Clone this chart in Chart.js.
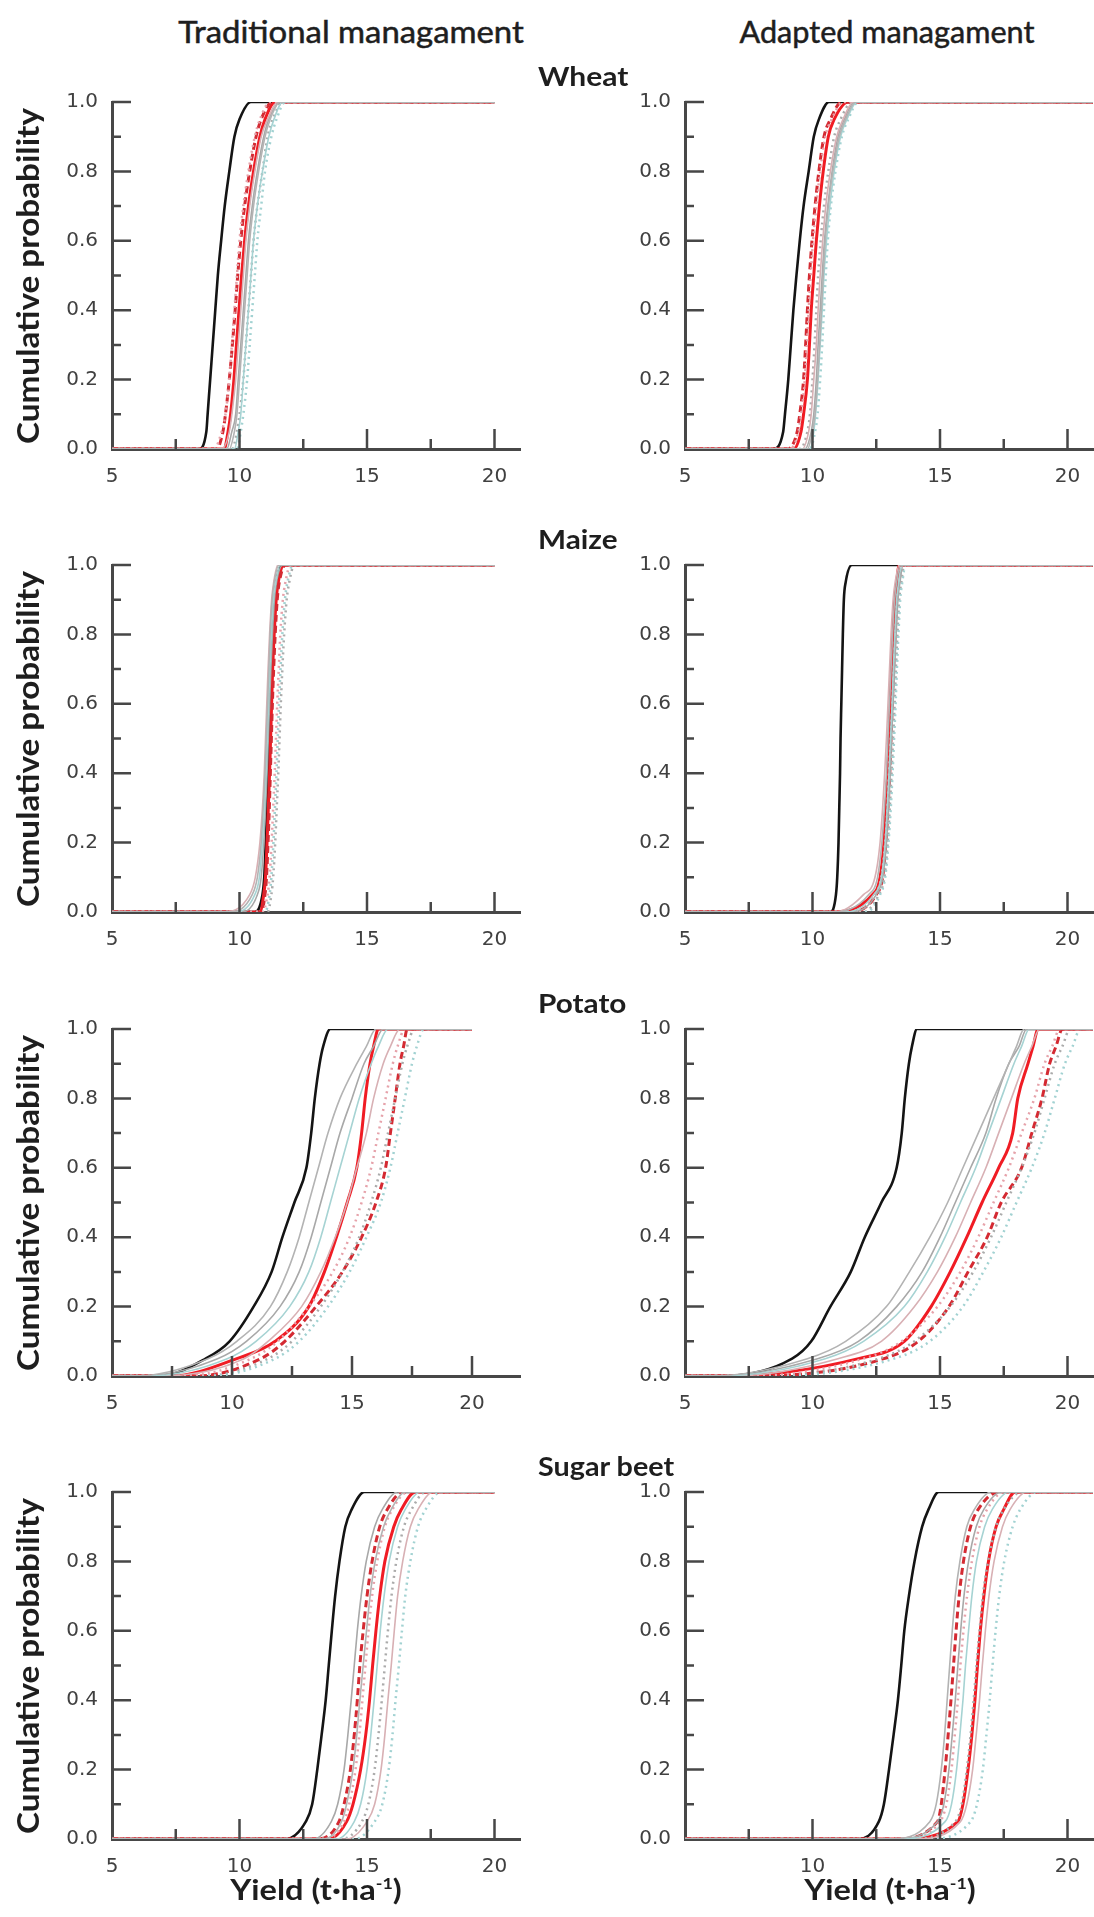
<!DOCTYPE html>
<html>
<head>
<meta charset="utf-8">
<script src="https://cdn.jsdelivr.net/npm/chart.js@4.4.1/dist/chart.umd.min.js"></script>
<style>
  html, body { margin: 0; padding: 0; background: #fff; }
  body { position: relative; width: 1094px; height: 1917px; overflow: hidden; }
  canvas { position: absolute; }
  .lbl { position: absolute; white-space: nowrap; font-family: Lato, 'Open Sans', sans-serif; color: #1e1e1e; line-height: 1.1; }
  .lbl sup { font-size: 0.55em; vertical-align: 0.7em; }
  .lbl.head { -webkit-text-stroke: 0.5px #1e1e1e; }
</style>
</head>
<body>
<script>
const probs = [0, 0.05, 0.1, 0.2, 0.3, 0.4, 0.5, 0.6, 0.7, 0.8, 0.9, 0.95, 1];

const yTicks = [0, 0.2, 0.4, 0.6, 0.8, 1.0];
const yMinorTicks = [0.1, 0.3, 0.5, 0.7, 0.9];
const xTicks = [5, 10, 15, 20];
const xMinorTicks = [7.5, 12.5, 17.5];

// ---- Wheat, traditional
const wheatTradBlack = [8.4, 8.7, 8.75, 8.85, 8.95, 9.05, 9.15, 9.28, 9.42, 9.6, 9.8, 10.0, 10.45];
const wheatTradRed = [9.4, 9.55, 9.65, 9.78, 9.88, 9.98, 10.08, 10.2, 10.35, 10.55, 10.8, 11.0, 11.4];
const wheatTradRedDash = [9.1, 9.35, 9.45, 9.6, 9.72, 9.83, 9.93, 10.05, 10.2, 10.4, 10.65, 10.85, 11.3];
const wheatTradGray = [
  [9.6, 9.8, 9.9, 10.0, 10.1, 10.2, 10.3, 10.4, 10.55, 10.75, 11.0, 11.2, 11.6],
  [9.8, 9.95, 10.05, 10.15, 10.25, 10.35, 10.45, 10.55, 10.7, 10.9, 11.15, 11.35, 11.7],
  [9.3, 9.6, 9.7, 9.85, 9.95, 10.05, 10.15, 10.25, 10.4, 10.6, 10.85, 11.1, 11.5],
  [9.5, 9.7, 9.85, 9.95, 10.05, 10.15, 10.25, 10.35, 10.5, 10.7, 10.95, 11.15, 11.6]
];
const wheatTradDotted = [
  [9.0, 9.3, 9.45, 9.6, 9.7, 9.8, 9.9, 10.0, 10.15, 10.35, 10.6, 10.8, 11.2],
  [9.9, 10.05, 10.15, 10.3, 10.4, 10.5, 10.6, 10.7, 10.85, 11.0, 11.25, 11.45, 11.8],
  [9.7, 9.9, 10.0, 10.15, 10.25, 10.35, 10.45, 10.55, 10.7, 10.9, 11.1, 11.3, 11.7]
];

// ---- Wheat, adapted
const wheatAdaptBlack = [8.45, 8.85, 8.92, 9.05, 9.15, 9.25, 9.37, 9.5, 9.65, 9.85, 10.05, 10.25, 10.65];
const wheatAdaptRed = [9.25, 9.55, 9.65, 9.8, 9.88, 9.95, 10.05, 10.15, 10.27, 10.42, 10.62, 10.85, 11.4];
const wheatAdaptRedDash = [9.0, 9.4, 9.5, 9.65, 9.73, 9.8, 9.88, 9.98, 10.1, 10.25, 10.45, 10.7, 11.15];
const wheatAdaptGray = [
  [9.8, 10.0, 10.1, 10.2, 10.28, 10.35, 10.42, 10.5, 10.62, 10.8, 11.05, 11.3, 11.7],
  [9.9, 10.05, 10.12, 10.22, 10.3, 10.38, 10.45, 10.55, 10.68, 10.85, 11.1, 11.35, 11.75],
  [9.6, 9.85, 9.95, 10.05, 10.15, 10.22, 10.3, 10.4, 10.52, 10.7, 10.95, 11.2, 11.6],
  [9.7, 9.95, 10.05, 10.15, 10.22, 10.3, 10.38, 10.47, 10.6, 10.77, 11.0, 11.25, 11.65]
];
const wheatAdaptDotted = [
  [9.1, 9.45, 9.55, 9.7, 9.78, 9.85, 9.93, 10.02, 10.15, 10.3, 10.5, 10.75, 11.2],
  [9.9, 10.1, 10.2, 10.3, 10.38, 10.45, 10.52, 10.6, 10.72, 10.9, 11.15, 11.4, 11.8],
  [9.5, 9.8, 9.9, 10.0, 10.08, 10.15, 10.22, 10.32, 10.45, 10.62, 10.85, 11.1, 11.55]
];

// ---- Maize, traditional
const maizeTradBlack = [10.6, 10.9, 10.97, 11.03, 11.08, 11.13, 11.17, 11.21, 11.25, 11.3, 11.38, 11.45, 11.65];
const maizeTradRed = [10.8, 10.95, 11.02, 11.08, 11.13, 11.18, 11.22, 11.26, 11.3, 11.36, 11.44, 11.52, 11.75];
const maizeTradRedDash = [10.85, 11.0, 11.06, 11.12, 11.17, 11.21, 11.25, 11.29, 11.34, 11.4, 11.48, 11.56, 11.8];
const maizeTradGray = [
  [9.6, 10.5, 10.7, 10.85, 10.93, 11.0, 11.05, 11.1, 11.15, 11.2, 11.28, 11.36, 11.55],
  [9.9, 10.6, 10.78, 10.9, 10.98, 11.04, 11.09, 11.14, 11.19, 11.25, 11.33, 11.42, 11.6],
  [9.3, 10.4, 10.62, 10.8, 10.9, 10.97, 11.02, 11.07, 11.12, 11.18, 11.26, 11.34, 11.5],
  [10.1, 10.7, 10.85, 10.95, 11.02, 11.08, 11.13, 11.18, 11.23, 11.29, 11.37, 11.45, 11.7]
];
const maizeTradDotted = [
  [10.9, 11.1, 11.18, 11.26, 11.32, 11.38, 11.43, 11.48, 11.54, 11.6, 11.7, 11.8, 12.0],
  [11.0, 11.18, 11.25, 11.33, 11.39, 11.45, 11.5, 11.55, 11.61, 11.68, 11.78, 11.88, 12.1],
  [11.1, 11.25, 11.32, 11.4, 11.46, 11.52, 11.57, 11.62, 11.68, 11.75, 11.85, 11.95, 12.15]
];

// ---- Maize, adapted
const maizeAdaptBlack = [10.7, 10.92, 10.97, 11.02, 11.05, 11.08, 11.1, 11.13, 11.16, 11.19, 11.23, 11.3, 11.55];
const maizeAdaptRed = [10.6, 12.35, 12.65, 12.8, 12.88, 12.95, 13.0, 13.05, 13.1, 13.16, 13.23, 13.3, 13.4];
const maizeAdaptRedDash = [11.5, 12.5, 12.75, 12.88, 12.96, 13.03, 13.08, 13.13, 13.18, 13.24, 13.3, 13.37, 13.5];
const maizeAdaptGray = [
  [10.8, 12.2, 12.55, 12.72, 12.82, 12.9, 12.96, 13.02, 13.08, 13.14, 13.22, 13.3, 13.45],
  [11.3, 12.4, 12.7, 12.85, 12.93, 13.0, 13.06, 13.12, 13.17, 13.23, 13.3, 13.38, 13.5],
  [10.9, 12.0, 12.45, 12.65, 12.75, 12.83, 12.9, 12.96, 13.02, 13.08, 13.16, 13.24, 13.4],
  [11.5, 12.5, 12.75, 12.9, 12.98, 13.05, 13.1, 13.16, 13.22, 13.28, 13.35, 13.43, 13.55]
];
const maizeAdaptDotted = [
  [11.6, 12.45, 12.7, 12.85, 12.94, 13.0, 13.07, 13.13, 13.19, 13.25, 13.32, 13.4, 13.55],
  [12.1, 12.65, 12.85, 12.98, 13.07, 13.14, 13.2, 13.26, 13.31, 13.37, 13.44, 13.52, 13.65],
  [12.0, 12.6, 12.82, 12.95, 13.03, 13.1, 13.16, 13.22, 13.27, 13.33, 13.4, 13.48, 13.6]
];

// ---- Potato, traditional
const potatoTradBlack = [7.0, 8.9, 9.9, 10.9, 11.65, 12.1, 12.6, 13.1, 13.3, 13.45, 13.65, 13.8, 14.1];
const potatoTradRed = [7.5, 10.2, 11.8, 13.2, 13.85, 14.35, 14.8, 15.2, 15.4, 15.55, 15.75, 15.9, 16.1];
const potatoTradRedDash = [8.5, 11.2, 12.2, 13.5, 14.6, 15.4, 16.0, 16.4, 16.6, 16.8, 17.0, 17.15, 17.3];
const potatoTradGray = [
  [6.0, 9.0, 10.2, 11.6, 12.3, 12.8, 13.2, 13.6, 14.0, 14.5, 15.2, 15.6, 16.0],
  [6.5, 9.8, 11.0, 12.4, 13.2, 13.7, 14.1, 14.5, 14.9, 15.3, 15.8, 16.1, 16.5],
  [7.0, 10.5, 11.5, 12.9, 13.7, 14.3, 14.8, 15.2, 15.6, 15.9, 16.3, 16.6, 17.0],
  [6.2, 9.4, 10.6, 12.0, 12.8, 13.3, 13.7, 14.1, 14.5, 15.0, 15.5, 15.9, 16.3]
];
const potatoTradDotted = [
  [8.0, 10.8, 11.9, 13.2, 14.2, 14.9, 15.4, 15.8, 16.1, 16.4, 16.7, 16.9, 17.2],
  [9.0, 11.8, 12.8, 14.0, 14.9, 15.6, 16.2, 16.6, 16.9, 17.2, 17.5, 17.7, 18.0],
  [8.8, 11.5, 12.5, 13.7, 14.6, 15.3, 15.8, 16.2, 16.5, 16.8, 17.1, 17.3, 17.6]
];

// ---- Potato, adapted
const potatoAdaptBlack = [6.5, 9.2, 9.95, 10.7, 11.5, 12.05, 12.7, 13.3, 13.5, 13.62, 13.78, 13.9, 14.1];
const potatoAdaptRed = [6.5, 11.8, 13.6, 14.65, 15.4, 16.05, 16.65, 17.3, 17.85, 18.05, 18.45, 18.65, 18.85];
const potatoAdaptRedDash = [7.5, 12.8, 14.15, 15.35, 16.1, 16.85, 17.4, 18.2, 18.6, 19.0, 19.3, 19.55, 19.8];
const potatoAdaptGray = [
  [6.0, 9.8, 11.3, 12.9, 13.8, 14.6, 15.3, 15.9, 16.5, 17.1, 17.7, 18.0, 18.3],
  [6.3, 10.5, 12.0, 13.6, 14.5, 15.2, 15.8, 16.4, 16.9, 17.4, 17.9, 18.2, 18.5],
  [6.8, 11.0, 12.7, 14.0, 14.9, 15.6, 16.2, 16.8, 17.3, 17.8, 18.3, 18.6, 18.9],
  [6.2, 10.2, 11.8, 13.3, 14.3, 15.0, 15.6, 16.2, 16.8, 17.2, 17.7, 18.1, 18.4]
];
const potatoAdaptDotted = [
  [7.5, 12.0, 13.5, 14.9, 15.8, 16.5, 17.1, 17.7, 18.2, 18.7, 19.1, 19.4, 19.7],
  [8.5, 13.2, 14.6, 15.9, 16.7, 17.4, 18.0, 18.6, 19.1, 19.5, 19.9, 20.2, 20.5],
  [8.0, 12.6, 14.0, 15.4, 16.3, 17.0, 17.6, 18.2, 18.7, 19.1, 19.5, 19.8, 20.1]
];

// ---- Sugar beet, traditional
const beetTradBlack = [11.8, 12.6, 12.85, 13.05, 13.22, 13.38, 13.5, 13.62, 13.75, 13.92, 14.15, 14.4, 14.9];
const beetTradRed = [13.5, 14.2, 14.45, 14.75, 14.95, 15.1, 15.22, 15.35, 15.5, 15.7, 16.05, 16.35, 16.9];
const beetTradRedDash = [13.0, 13.9, 14.1, 14.35, 14.5, 14.62, 14.72, 14.85, 15.0, 15.2, 15.5, 15.8, 16.4];
const beetTradGray = [
  [13.3, 14.0, 14.2, 14.45, 14.6, 14.72, 14.85, 14.98, 15.12, 15.32, 15.65, 15.95, 16.5],
  [13.8, 14.5, 14.75, 15.0, 15.15, 15.28, 15.4, 15.52, 15.67, 15.87, 16.2, 16.5, 17.1],
  [14.2, 15.0, 15.3, 15.55, 15.7, 15.82, 15.95, 16.07, 16.2, 16.4, 16.7, 17.0, 17.6],
  [12.9, 13.6, 13.85, 14.1, 14.25, 14.38, 14.5, 14.62, 14.77, 14.97, 15.3, 15.6, 16.2]
];
const beetTradDotted = [
  [13.3, 14.1, 14.3, 14.55, 14.7, 14.82, 14.94, 15.06, 15.2, 15.4, 15.7, 16.0, 16.6],
  [14.5, 15.3, 15.6, 15.85, 16.0, 16.12, 16.25, 16.37, 16.5, 16.7, 17.0, 17.3, 17.9],
  [14.0, 14.8, 15.05, 15.3, 15.45, 15.58, 15.7, 15.82, 15.96, 16.15, 16.45, 16.75, 17.3]
];

// ---- Sugar beet, adapted
const beetAdaptBlack = [11.8, 12.6, 12.8, 13.0, 13.18, 13.35, 13.48, 13.6, 13.78, 14.0, 14.3, 14.55, 14.95];
const beetAdaptRed = [13.5, 15.7, 15.9, 16.1, 16.25, 16.37, 16.47, 16.58, 16.72, 16.9, 17.2, 17.5, 17.95];
const beetAdaptRedDash = [13.2, 14.9, 15.05, 15.2, 15.32, 15.43, 15.53, 15.63, 15.75, 15.92, 16.2, 16.5, 17.3];
const beetAdaptGray = [
  [13.0, 14.6, 14.85, 15.05, 15.18, 15.28, 15.38, 15.48, 15.6, 15.78, 16.05, 16.35, 17.0],
  [13.4, 15.2, 15.45, 15.65, 15.78, 15.9, 16.0, 16.12, 16.25, 16.43, 16.75, 17.05, 17.7],
  [14.0, 15.8, 16.05, 16.28, 16.42, 16.55, 16.66, 16.78, 16.92, 17.12, 17.45, 17.75, 18.4],
  [13.2, 14.9, 15.15, 15.35, 15.48, 15.6, 15.7, 15.81, 15.94, 16.12, 16.42, 16.72, 17.4]
];
const beetAdaptDotted = [
  [13.5, 15.0, 15.25, 15.45, 15.58, 15.7, 15.8, 15.92, 16.06, 16.25, 16.55, 16.85, 17.5],
  [14.5, 16.2, 16.45, 16.68, 16.82, 16.95, 17.06, 17.18, 17.32, 17.52, 17.85, 18.15, 18.8],
  [13.8, 15.6, 15.85, 16.05, 16.2, 16.32, 16.43, 16.55, 16.68, 16.88, 17.2, 17.5, 18.2]
];

// ---- layout
const axisLeft = [112, 685];
const plotTop = [102, 565, 1029, 1492];
const plotW = 408, plotH = 347;
const yScaleW = 100, padTop = 20, xScaleH = 45, padRight = 12;

const axisColor = '#474747';
const tickColor = '#404040';
const grayColors = ['#b3b3b3', '#a6d3d3', '#d8b0b4', '#a8a8a8'];
const dotColors = ['#e6a2aa', '#a2d2d2', '#ababab'];

const panels = [
  { row: 0, col: 0, xMax: 21, xEnd: 20, five: true, black: wheatTradBlack, red: wheatTradRed, redDash: wheatTradRedDash, gray: wheatTradGray, dotted: wheatTradDotted },
  { row: 0, col: 1, xMax: 21, xEnd: 21, five: true, black: wheatAdaptBlack, red: wheatAdaptRed, redDash: wheatAdaptRedDash, gray: wheatAdaptGray, dotted: wheatAdaptDotted },
  { row: 1, col: 0, xMax: 21, xEnd: 20, five: true, black: maizeTradBlack, red: maizeTradRed, redDash: maizeTradRedDash, gray: maizeTradGray, dotted: maizeTradDotted },
  { row: 1, col: 1, xMax: 21, xEnd: 21, five: true, black: maizeAdaptBlack, red: maizeAdaptRed, redDash: maizeAdaptRedDash, gray: maizeAdaptGray, dotted: maizeAdaptDotted },
  { row: 2, col: 0, xMax: 22, xEnd: 20, five: true, black: potatoTradBlack, red: potatoTradRed, redDash: potatoTradRedDash, gray: potatoTradGray, dotted: potatoTradDotted },
  { row: 2, col: 1, xMax: 21, xEnd: 21, five: true, black: potatoAdaptBlack, red: potatoAdaptRed, redDash: potatoAdaptRedDash, gray: potatoAdaptGray, dotted: potatoAdaptDotted },
  { row: 3, col: 0, xMax: 21, xEnd: 20, five: true, black: beetTradBlack, red: beetTradRed, redDash: beetTradRedDash, gray: beetTradGray, dotted: beetTradDotted },
  { row: 3, col: 1, xMax: 21, xEnd: 21, five: false, black: beetAdaptBlack, red: beetAdaptRed, redDash: beetAdaptRedDash, gray: beetAdaptGray, dotted: beetAdaptDotted }
];

function curve(q, xEnd, style) {
  const pts = [{ x: 5, y: 0 }];
  q.forEach((v, i) => pts.push({ x: v, y: probs[i] }));
  pts.push({ x: xEnd, y: 1 });
  return Object.assign({ data: pts, pointRadius: 0, fill: false, cubicInterpolationMode: 'monotone' }, style);
}

// inward tick marks, placed with the chart's own scales
const tickMarks = {
  id: 'tickMarks',
  afterDraw(chart) {
    const ctx = chart.ctx;
    const area = chart.chartArea;
    const xs = chart.scales.x, ys = chart.scales.y;
    ctx.save();
    ctx.setLineDash([]);
    ctx.globalAlpha = 1;
    ctx.strokeStyle = axisColor;
    ctx.lineWidth = 2.5;
    ctx.beginPath();
    yTicks.slice(1).forEach(v => { const p = ys.getPixelForValue(v); ctx.moveTo(area.left, p); ctx.lineTo(area.left + 19, p); });
    yMinorTicks.forEach(v => { const p = ys.getPixelForValue(v); ctx.moveTo(area.left, p); ctx.lineTo(area.left + 9, p); });
    xTicks.slice(1).forEach(v => { const p = xs.getPixelForValue(v); ctx.moveTo(p, area.bottom); ctx.lineTo(p, area.bottom - 20); });
    xMinorTicks.forEach(v => { const p = xs.getPixelForValue(v); ctx.moveTo(p, area.bottom); ctx.lineTo(p, area.bottom - 10); });
    ctx.stroke();
    ctx.restore();
  }
};

const tickFont = { family: "'DejaVu Sans', Verdana, sans-serif", size: 20 };

panels.forEach(pn => {
  const cv = document.createElement('canvas');
  cv.width = yScaleW + plotW + padRight;
  cv.height = padTop + plotH + xScaleH;
  cv.style.left = (axisLeft[pn.col] - yScaleW) + 'px';
  cv.style.top = (plotTop[pn.row] - padTop) + 'px';
  document.body.appendChild(cv);

  const datasets = [];
  pn.gray.forEach((q, i) => datasets.push(curve(q, pn.xEnd, { borderColor: grayColors[i], borderWidth: 1.6 })));
  pn.dotted.forEach((q, i) => datasets.push(curve(q, pn.xEnd, { borderColor: dotColors[i], borderWidth: 2.5, borderDash: [2, 4] })));
  datasets.push(curve(pn.redDash, pn.xEnd, { borderColor: '#d42a32', borderWidth: 3, borderDash: [7, 4] }));
  datasets.push(curve(pn.red, pn.xEnd, { borderColor: '#f01c24', borderWidth: 3 }));
  datasets.push(curve(pn.black, pn.xEnd, { borderColor: '#141414', borderWidth: 2.6 }));

  new Chart(cv, {
    type: 'line',
    data: { datasets },
    options: {
      responsive: false,
      animation: false,
      events: [],
      layout: { padding: { top: padTop, right: padRight, left: 0, bottom: 0 } },
      plugins: { legend: { display: false }, tooltip: { enabled: false } },
      scales: {
        x: {
          type: 'linear', min: 5, max: pn.xMax,
          afterBuildTicks: s => { s.ticks = xTicks.map(v => ({ value: v })); },
          afterFit: s => { s.height = xScaleH; },
          grid: { display: false },
          border: { display: true, color: axisColor, width: 3 },
          ticks: {
            color: tickColor, font: tickFont, padding: 8, maxRotation: 0,
            callback: v => (v === 5 && !pn.five) ? '' : String(v)
          }
        },
        y: {
          type: 'linear', min: 0, max: 1,
          afterBuildTicks: s => { s.ticks = yTicks.map(v => ({ value: v })); },
          afterFit: s => { s.width = yScaleW; },
          grid: { display: false },
          border: { display: true, color: axisColor, width: 3 },
          ticks: { color: tickColor, font: tickFont, padding: 6, callback: v => v.toFixed(1) }
        }
      }
    },
    plugins: [tickMarks]
  });
});

// ---- text
function placeText(html, opt) {
  const el = document.createElement('div');
  el.className = 'lbl' + (opt.head ? ' head' : '');
  el.innerHTML = html;
  el.style.fontSize = opt.size + 'px';
  el.style.fontWeight = opt.bold ? '700' : '400';
  document.body.appendChild(el);
  const s = opt.width / el.offsetWidth;
  el.style.left = opt.x + 'px';
  el.style.top = opt.y + 'px';
  if (opt.align === 'left') {
    el.style.transformOrigin = '0 50%';
    el.style.transform = 'translateY(-50%) scaleX(' + s + ')';
  } else {
    el.style.transform = 'translate(-50%,-50%)' + (opt.rotate ? ' rotate(-90deg)' : '') + ' scaleX(' + s + ')';
  }
}

const colTitles = ['Traditional managament', 'Adapted managament'];
const colTitleX = [351, 887];
const colTitleW = [345, 295];
colTitles.forEach((t, i) => placeText(t, { x: colTitleX[i], y: 31, size: 30, width: colTitleW[i], head: true }));

const cropNames = ['Wheat', 'Maize', 'Potato', 'Sugar beet'];
const cropNameW = [90, 80, 88, 136];
cropNames.forEach((t, i) => placeText(t, { x: 538, y: plotTop[i] - 26, size: 26, bold: true, width: cropNameW[i], align: 'left' }));

plotTop.forEach(t => placeText('Cumulative probability', { x: 27, y: t + plotH / 2, size: 30, bold: true, width: 336, rotate: true }));

axisLeft.forEach((a, i) => {
  const cx = i === 0 ? a + plotW / 2 : (a + 1094) / 2;
  placeText('Yield (t\u00b7ha<sup>-1</sup>)', { x: cx, y: 1889, size: 28, bold: true, width: 171 });
});
</script>
</body>
</html>
